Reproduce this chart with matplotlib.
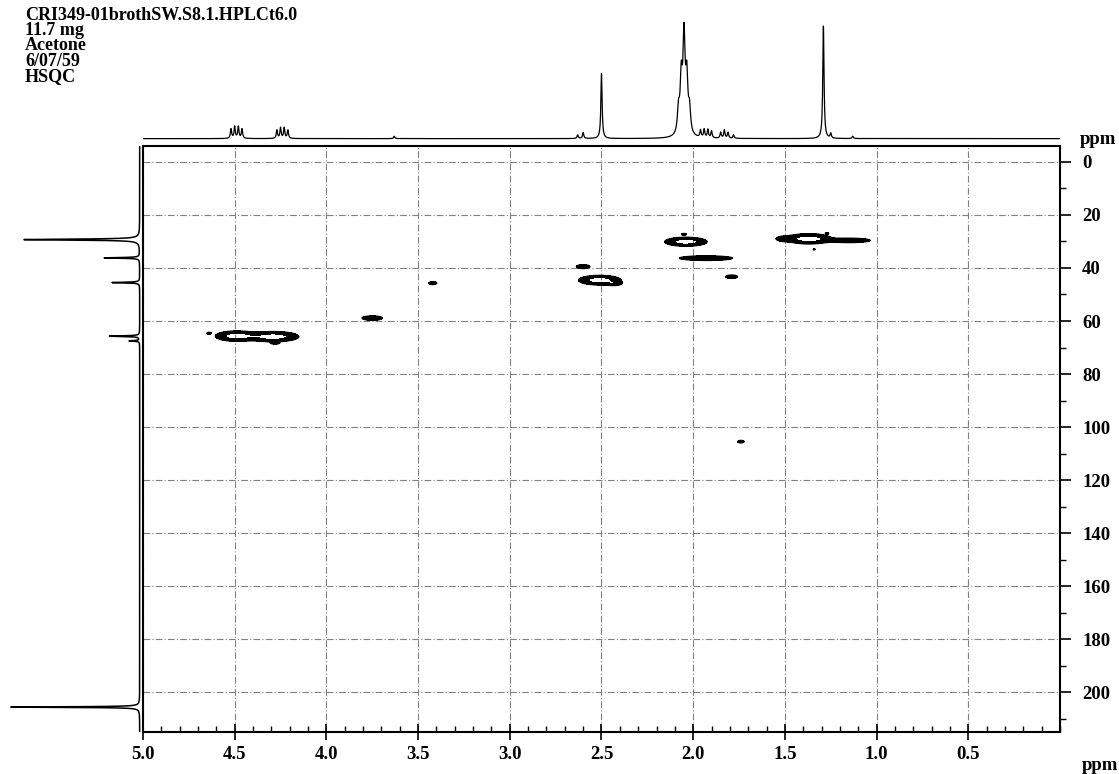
import numpy as np
import matplotlib
matplotlib.use("Agg")
import matplotlib.pyplot as plt
from matplotlib.ticker import MultipleLocator, FixedLocator

W, H = 1119, 774
SERIF = ["Liberation Serif", "DejaVu Serif"]

# ---- sample header ----
header_lines = ["CRI349-01brothSW.S8.1.HPLCt6.0", "11.7 mg", "Acetone", "6/07/59", "HSQC"]

# ---- axis ranges / ticks ----
h_range = (5.0, 0.0)            # 1H, ppm
c_range = (215.0, -6.0)         # 13C, ppm
h_tick_labels = ["5.0", "4.5", "4.0", "3.5", "3.0", "2.5", "2.0", "1.5", "1.0", "0.5"]
h_tick_values = [5.0, 4.5, 4.0, 3.5, 3.0, 2.5, 2.0, 1.5, 1.0, 0.5]
c_tick_values = [0, 20, 40, 60, 80, 100, 120, 140, 160, 180, 200]

# ---- HSQC cross peaks: 1H shift, 13C shift, 1H width, 13C width, intensity ----
xp_h = [4.49, 4.29, 4.64, 4.28, 3.75, 3.42, 2.60, 2.51, 2.43, 2.04, 2.05, 1.93, 1.79,
        1.37, 1.50, 1.15, 1.27, 1.34, 1.74]
xp_c = [65.7, 65.9, 64.6, 68.3, 58.9, 45.7, 39.5, 44.6, 45.8, 30.1, 27.3, 36.3, 43.3,
        29.0, 29.0, 29.6, 27.0, 33.0, 105.5]
xp_wh = [0.19, 0.23, 0.025, 0.05, 0.12, 0.05, 0.08, 0.19, 0.08, 0.19, 0.03, 0.30, 0.07,
         0.20, 0.10, 0.25, 0.02, 0.015, 0.04]
xp_wc = [3.2, 3.2, 0.8, 0.9, 1.8, 1.3, 1.6, 3.0, 1.6, 2.8, 0.8, 1.8, 1.4,
         3.2, 2.0, 1.8, 0.7, 0.6, 1.1]
xp_amp = [1.0, 1.0, 0.4, 0.4, 0.45, 0.4, 0.45, 1.0, 0.45, 1.0, 0.35, 0.5, 0.45,
          1.0, 0.45, 0.45, 0.35, 0.3, 0.4]

# ---- 1H projection peaks: shift, height, half width ----
h1_ppm = [4.52, 4.50, 4.48, 4.46, 4.27, 4.25, 4.23, 4.21, 3.63, 2.63, 2.60, 2.50,
          2.08, 2.065, 2.05, 2.035, 2.02, 1.96, 1.94, 1.92, 1.90, 1.85, 1.83, 1.81, 1.78,
          1.29, 1.25, 1.13]
h1_height = [0.08, 0.10, 0.10, 0.08, 0.07, 0.09, 0.09, 0.07, 0.02, 0.03, 0.05, 0.55,
             0.20, 0.45, 0.80, 0.45, 0.20, 0.06, 0.07, 0.07, 0.06, 0.05, 0.07, 0.05, 0.03,
             0.95, 0.04, 0.02]
h1_hw = [0.004] * 12 + [0.007] * 5 + [0.004] * 11

# ---- 13C projection peaks: shift, height, half width ----
c13_ppm = [29.3, 36.2, 45.5, 65.7, 67.5, 205.6]
c13_height = [0.88, 0.27, 0.21, 0.23, 0.08, 0.98]
c13_hw = [0.22, 0.15, 0.15, 0.15, 0.15, 0.15]


def rect(l, t, r, b):
    return [l / W, 1 - b / H, (r - l) / W, (b - t) / H]


def lorentz(x, centers, heights, widths):
    y = np.zeros_like(x)
    for c, a, w in zip(centers, heights, widths):
        y += a * w ** 2 / ((x - c) ** 2 + w ** 2)
    return y


fig = plt.figure(figsize=(W / 100, H / 100), dpi=100)
fig.patch.set_facecolor("white")

main = fig.add_axes(rect(143, 146, 1060, 732))
top = fig.add_axes(rect(143, 20, 1060, 141))
side = fig.add_axes(rect(8, 146, 141, 732))

# ---- 2D contour map ----
hh = np.linspace(h_range[1], h_range[0], 1400)
cc = np.linspace(c_range[1], c_range[0], 1200)
HH, CC = np.meshgrid(hh, cc)
Z = np.zeros_like(HH)
for h0, c0, wh, wc, a in zip(xp_h, xp_c, xp_wh, xp_wc, xp_amp):
    sh = wh / 2 / 1.6
    sc = wc / 2 / 1.6
    Z += a * np.exp(-0.5 * (((HH - h0) / sh) ** 2 + ((CC - c0) / sc) ** 2))

main.grid(True, which="major", color="#808080", lw=0.8, ls=(0, (6, 2, 1, 2)))
main.set_axisbelow(True)
main.contourf(HH, CC, Z, levels=[0.15, 0.6], colors="black", zorder=3)
main.contour(HH, CC, Z, levels=[0.15], colors="black", linewidths=0.9, zorder=3)

main.set_xlim(*h_range)
main.set_ylim(*c_range)
main.xaxis.set_major_locator(FixedLocator(h_tick_values))
main.set_xticklabels(h_tick_labels)
main.xaxis.set_minor_locator(MultipleLocator(0.1))
main.yaxis.set_major_locator(FixedLocator(c_tick_values))
main.yaxis.set_minor_locator(MultipleLocator(10))
main.yaxis.tick_right()
main.tick_params(axis="x", which="major", direction="inout", length=12, width=1.2, pad=4)
main.tick_params(axis="x", which="minor", direction="in", length=4, width=1.0)
main.tick_params(axis="y", which="major", direction="out", length=8, width=1.2, pad=8)
main.tick_params(axis="y", which="minor", direction="out", length=4, width=1.0)
for lab in main.get_xticklabels() + main.get_yticklabels():
    lab.set_fontfamily(SERIF)
    lab.set_fontweight("bold")
    lab.set_fontsize(13.5)
for sp in main.spines.values():
    sp.set_linewidth(1.5)
    sp.set_color("black")

fig.text(1080 / W, 1 - 140 / H, "ppm", fontfamily=SERIF, fontweight="bold",
         fontsize=13.5, ha="left", va="center")
fig.text(1082 / W, 1 - 765 / H, "ppm", fontfamily=SERIF, fontweight="bold",
         fontsize=13.5, ha="left", va="center")

# ---- 1H projection on top ----
xs = np.linspace(h_range[1], h_range[0], 8000)
top.plot(xs, lorentz(xs, h1_ppm, h1_height, h1_hw), color="black", lw=0.9)
top.set_xlim(*h_range)
top.set_ylim(-0.02, 1.0)
top.axis("off")

# ---- 13C projection on the left ----
ys = np.linspace(c_range[1], c_range[0], 8000)
side.plot(lorentz(ys, c13_ppm, c13_height, c13_hw), ys, color="black", lw=1.1)
side.set_xlim(1.0, -0.01)
side.set_ylim(*c_range)
side.axis("off")

# ---- header ----
for i, line in enumerate(header_lines):
    fig.text(25 / W, 1 - (15 + 15.5 * i) / H, line, fontfamily=SERIF, fontweight="bold",
             fontsize=13, ha="left", va="center")

fig.savefig("out.png", dpi=100, facecolor="white")
